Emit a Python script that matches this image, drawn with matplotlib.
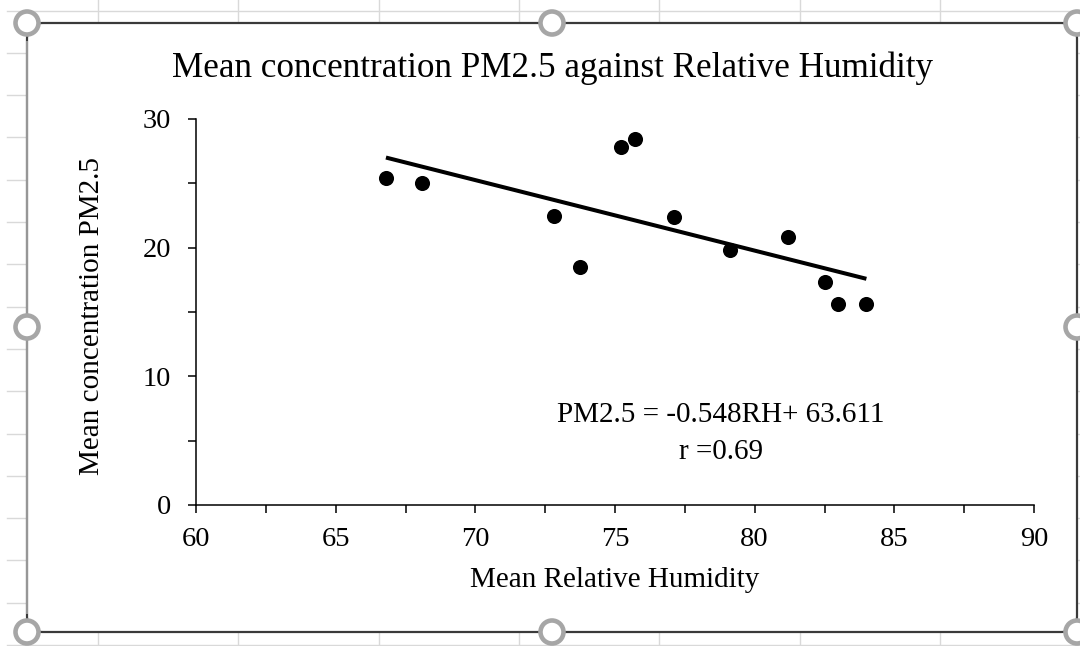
import matplotlib
matplotlib.use("Agg")
import matplotlib.pyplot as plt
from matplotlib.patches import FancyBboxPatch, Circle
from matplotlib.ticker import MultipleLocator
import numpy as np

# ---- data ----
rh = [66.8, 68.1, 72.8, 73.75, 75.2, 75.7, 77.1, 79.1, 81.2, 82.5, 83.0, 84.0]
pm25 = [25.45, 25.05, 22.5, 18.5, 27.8, 28.45, 22.4, 19.8, 20.85, 17.3, 15.6, 15.6]
slope = -0.548
intercept = 63.611
r_value = 0.69

title = "Mean concentration PM2.5 against Relative Humidity"
xlabel = "Mean Relative Humidity"
ylabel = "Mean concentration PM2.5"
eq_text = "PM2.5 = -0.548RH+ 63.611"
r_text = "r =0.69"

W, H = 1080, 646
fig = plt.figure(figsize=(W / 100, H / 100), dpi=100)
fig.patch.set_facecolor("white")
serif = ["Liberation Serif", "DejaVu Serif"]

# ---- background layer (spreadsheet grid, chart frame, handles) in pixel coords ----
bg = fig.add_axes([0, 0, 1, 1], zorder=0)
bg.set_xlim(0, W)
bg.set_ylim(H, 0)
bg.axis("off")
grid_c = "#d9d9d9"
for y in np.arange(10.5, H, 42.3):
    bg.plot([7, W], [y, y], color=grid_c, lw=1.0, zorder=0)
for x in np.arange(98, W, 140.3):
    bg.plot([x, x], [0, H], color=grid_c, lw=1.0, zorder=0)

box = FancyBboxPatch((27, 23), 1077 - 27, 632 - 23,
                     boxstyle="round,pad=0,rounding_size=16",
                     facecolor="white", edgecolor="#3a3a3a", lw=1.6, zorder=1)
bg.add_patch(box)
bg.plot([27, 27], [42, 613], color="#9a9a9a", lw=1.4, zorder=2)

handles = [(27, 23), (552, 23), (1077, 23), (27, 327), (1077, 327),
           (27, 632), (552, 632), (1077, 632)]
for (hx, hy) in handles:
    bg.add_patch(Circle((hx, hy), 11.5, facecolor="white", edgecolor="#a6a6a6",
                        lw=3.3, zorder=5))

# ---- main chart ----
ax = fig.add_axes([196 / W, 1 - 505 / H, (1034 - 196) / W, (505 - 119) / H], zorder=2)
ax.set_facecolor("none")
ax.scatter(rh, pm25, s=118, color="black", zorder=3, linewidths=0)
xt = np.array([min(rh), max(rh)])
ax.plot(xt, slope * xt + intercept, color="black", lw=2.9, zorder=2,
        solid_capstyle="butt")

ax.set_xlim(60, 90)
ax.set_ylim(0, 30)
ax.xaxis.set_major_locator(MultipleLocator(5))
ax.xaxis.set_minor_locator(MultipleLocator(2.5))
ax.yaxis.set_major_locator(MultipleLocator(10))
ax.yaxis.set_minor_locator(MultipleLocator(5))
for s in ["top", "right"]:
    ax.spines[s].set_visible(False)
for s in ["left", "bottom"]:
    ax.spines[s].set_linewidth(1.1)
    ax.spines[s].set_color("black")
ax.tick_params(which="both", direction="out", length=6, width=1.1, color="black")
ax.tick_params(axis="x", which="major", pad=10, labelsize=20.5)
ax.tick_params(axis="y", which="major", pad=12, labelsize=20.5)
for lab in ax.get_xticklabels() + ax.get_yticklabels():
    lab.set_fontfamily(serif)

ax.text(78.8, 7.0, eq_text, ha="center", va="center", fontsize=21, family=serif)
ax.text(78.8, 4.15, r_text, ha="center", va="center", fontsize=21, family=serif)

fig.text(553 / W, 1 - 68 / H, title, ha="center", va="center", fontsize=25.3,
         family=serif)
fig.text(615 / W, 1 - 580 / H, xlabel, ha="center", va="center", fontsize=21,
         family=serif)
fig.text(92 / W, 1 - 316 / H, ylabel, ha="center", va="center", fontsize=21,
         rotation=90, family=serif)

fig.savefig("out.png", dpi=100, facecolor="white")
